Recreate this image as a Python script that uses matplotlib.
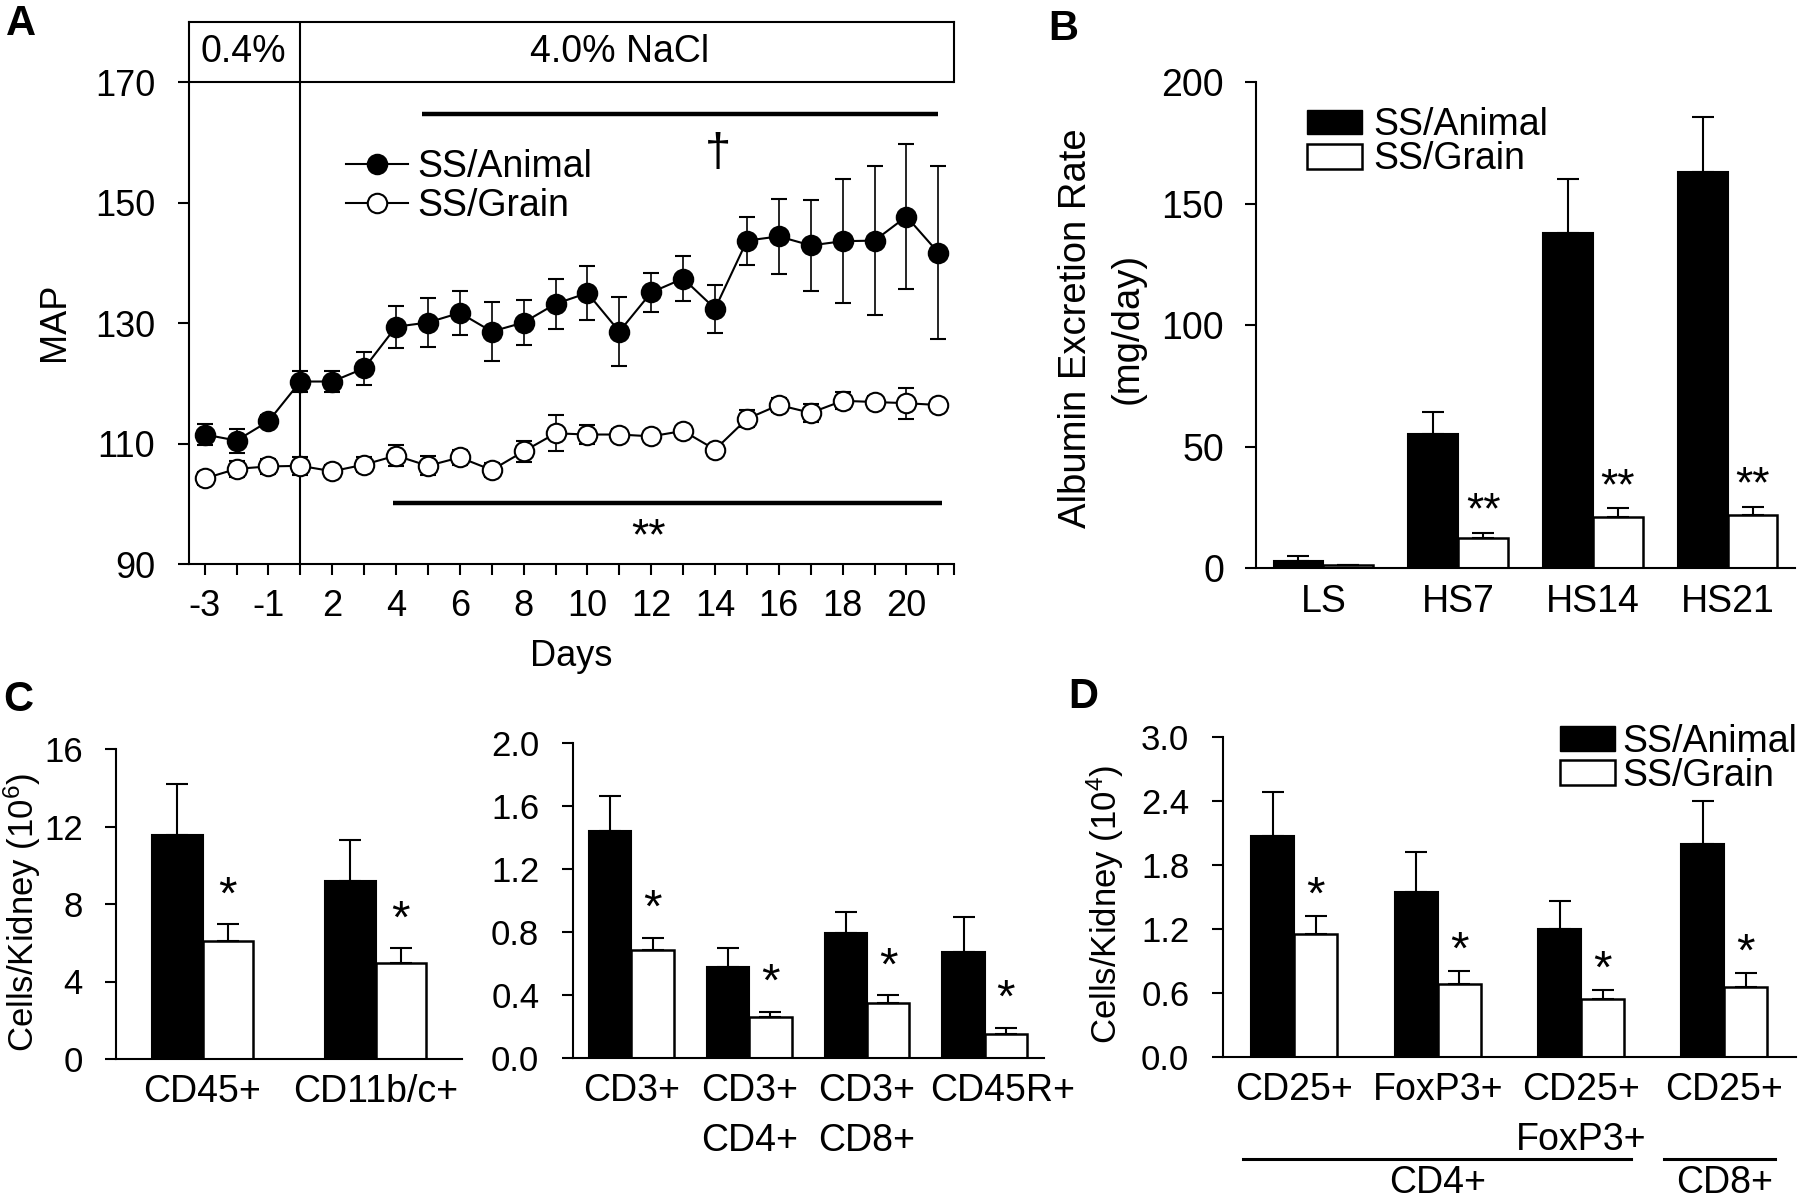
import numpy as np
import matplotlib
matplotlib.use('Agg')
import matplotlib.pyplot as plt
import matplotlib.transforms as mtransforms
from matplotlib.lines import Line2D
from matplotlib.patches import Patch

plt.rcParams['font.family'] = ['Liberation Sans', 'DejaVu Sans']
plt.rcParams['mathtext.fontset'] = 'custom'
plt.rcParams['mathtext.rm'] = 'Liberation Sans'
plt.rcParams['mathtext.it'] = 'Liberation Sans:italic'
plt.rcParams['axes.linewidth'] = 1.5

# panel A data (MAP vs days)
day_labels = ['-3', '-2', '-1', '1', '2', '3', '4', '5', '6', '7', '8', '9', '10',
              '11', '12', '13', '14', '15', '16', '17', '18', '19', '20', '21']
animal_map = [111.5, 110.5, 113.7, 120.3, 120.3, 122.5, 129.4, 130.1, 131.7, 128.6, 130.1, 133.2,
              135.0, 128.6, 135.1, 137.4, 132.4, 143.7, 144.4, 142.9, 143.6, 143.7, 147.7, 141.7]
animal_sem = [1.8, 2.0, 1.0, 1.8, 1.8, 2.7, 3.5, 4.1, 3.6, 4.9, 3.8, 4.2,
              4.5, 5.7, 3.3, 3.7, 4.0, 4.0, 6.2, 7.6, 10.3, 12.4, 12.1, 14.4]
grain_map = [104.2, 105.8, 106.2, 106.3, 105.4, 106.5, 108.0, 106.3, 107.7, 105.6, 108.7, 111.7,
             111.5, 111.5, 111.2, 112.1, 109.0, 114.1, 116.4, 115.1, 117.1, 116.9, 116.7, 116.4]
grain_sem = [1.0, 1.3, 1.2, 1.5, 1.0, 1.2, 1.7, 1.6, 1.2, 1.2, 1.8, 3.0,
             1.6, 1.0, 0.6, 0.6, 0.8, 1.4, 1.1, 1.5, 1.4, 1.0, 2.6, 0.8]

# panel B data (albumin excretion)
alb_groups = ['LS', 'HS7', 'HS14', 'HS21']
alb_animal = [3.2, 55.4, 138.2, 163.0]
alb_animal_err = [2.0, 8.9, 22.2, 22.7]
alb_grain = [1.2, 12.6, 21.0, 21.9]
alb_grain_err = [0.2, 2.1, 3.7, 3.4]
alb_sig = ['', '**', '**', '**']

# panel C data (cells/kidney)
c1_groups = ['CD45+', 'CD11b/c+']
c1_animal = [11.57, 9.18]
c1_animal_err = [2.61, 2.11]
c1_grain = [6.07, 4.93]
c1_grain_err = [0.89, 0.80]
c1_sig = ['*', '*']

c2_groups = ['CD3+', 'CD3+\nCD4+', 'CD3+\nCD8+', 'CD45R+']
c2_animal = [1.44, 0.576, 0.789, 0.670]
c2_animal_err = [0.22, 0.123, 0.134, 0.223]
c2_grain = [0.683, 0.260, 0.345, 0.148]
c2_grain_err = [0.079, 0.032, 0.053, 0.043]
c2_sig = ['*', '*', '*', '*']

# panel D data (Treg)
d_groups = ['CD25+', 'FoxP3+', 'CD25+\nFoxP3+', 'CD25+']
d_animal = [2.07, 1.54, 1.20, 1.99]
d_animal_err = [0.41, 0.38, 0.26, 0.41]
d_grain = [1.15, 0.686, 0.537, 0.657]
d_grain_err = [0.17, 0.117, 0.087, 0.124]
d_sig = ['*', '*', '*', '*']

W, H = 1800, 1198
fig = plt.figure(figsize=(W / 100, H / 100), dpi=100)


def px_axes(l, t, r, b):
    return fig.add_axes([l / W, 1 - b / H, (r - l) / W, (b - t) / H])


def bar_panel(ax, groups, animal, animal_err, grain, grain_err, sig, width, star_off, star_fs, fs, xfs):
    xs = np.arange(len(groups))
    ax.bar(xs - width / 2, animal, width, color='black', edgecolor='black', linewidth=1.5,
           yerr=[np.zeros(len(xs)), animal_err], capsize=8,
           error_kw=dict(elinewidth=1.5, capthick=1.5, ecolor='black'), zorder=2)
    ax.bar(xs + width / 2, grain, width, color='white', edgecolor='black', linewidth=1.8,
           yerr=[np.zeros(len(xs)), grain_err], capsize=8,
           error_kw=dict(elinewidth=1.5, capthick=1.5, ecolor='black'), zorder=2)
    for xi, g, e, s in zip(xs, grain, grain_err, sig):
        if s:
            ax.annotate(s, (xi + width / 2, g + e), xytext=(0, star_off), textcoords='offset points',
                        ha='center', va='bottom', fontsize=star_fs)
    ax.set_xticks(xs)
    ax.set_xticklabels(groups, linespacing=1.5)
    ax.spines['top'].set_visible(False)
    ax.spines['right'].set_visible(False)
    ax.tick_params(axis='x', length=0, pad=11, labelsize=xfs)
    ax.tick_params(axis='y', direction='out', length=8, width=1.5, pad=16, labelsize=fs)
    return xs


# ---------------- panel A ----------------
axA = px_axes(188.7, 22, 954.3, 564)
x = np.arange(len(day_labels))
axA.errorbar(x, animal_map, yerr=animal_sem, color='black', lw=1.5, marker='o', ms=14,
             mfc='black', mec='black', mew=1.5, capsize=6, elinewidth=1.2, capthick=1.2, zorder=3)
axA.errorbar(x, grain_map, yerr=grain_sem, color='black', lw=1.5, marker='o', ms=14,
             mfc='white', mec='black', mew=1.5, capsize=6, elinewidth=1.2, capthick=1.2, zorder=3)
axA.set_xlim(-0.5, 23.5)
axA.set_ylim(90, 180)
axA.set_yticks([90, 110, 130, 150, 170])
axA.set_xticks(x)
axA.set_xticklabels([lab if i % 2 == 0 else '' for i, lab in enumerate(day_labels)])
axA.set_xticks([23.5], minor=True)
axA.tick_params(axis='both', which='both', direction='out', width=1.5, labelsize=26)
axA.tick_params(axis='x', which='both', length=8, pad=10)
axA.tick_params(axis='y', length=8, pad=16)
axA.spines['right'].set_bounds(170, 180)
axA.axhline(170, color='black', lw=1.5)
axA.axvline(3, color='black', lw=1.5)
axA.text(1.2, 175, '0.4%', ha='center', va='center', fontsize=27)
axA.text(13, 175, '4.0% NaCl', ha='center', va='center', fontsize=27)
axA.hlines(164.7, 6.8, 23.0, color='black', lw=3.2)
axA.text(16.1, 158, '\u2020', ha='center', va='center', fontsize=34)
axA.hlines(100.2, 5.9, 23.1, color='black', lw=3.2)
axA.text(13.9, 94.3, '**', ha='center', va='center', fontsize=32)
handles_a = [Line2D([], [], color='black', lw=1.5, marker='o', ms=14, mfc='black', mec='black', mew=1.5),
             Line2D([], [], color='black', lw=1.5, marker='o', ms=14, mfc='white', mec='black', mew=1.5)]
axA.legend(handles_a, ['SS/Animal', 'SS/Grain'], loc='upper left', bbox_to_anchor=(0.2055, 0.765),
           frameon=False, fontsize=27, handlelength=1.65, handletextpad=0.25, labelspacing=0.07,
           borderpad=0, borderaxespad=0)
fig.text(54.5 / W, 1 - 322 / H, 'MAP', rotation=90, ha='center', va='center', fontsize=26)
fig.text(571.5 / W, 1 - 657 / H, 'Days', ha='center', va='center', fontsize=26)

# ---------------- panel B ----------------
axB = px_axes(1256, 82.4, 1795, 568.3)
bar_panel(axB, alb_groups, alb_animal, alb_animal_err, alb_grain, alb_grain_err, alb_sig,
          0.37, 0, 32, 27, 27)
axB.set_xlim(-0.5, 3.5)
axB.set_ylim(0, 200)
axB.set_yticks([0, 50, 100, 150, 200])
axB.tick_params(axis='y', pad=15)
axB.legend([Patch(facecolor='black', edgecolor='black'), Patch(facecolor='white', edgecolor='black', lw=1.8)],
           ['SS/Animal', 'SS/Grain'], loc='upper left', bbox_to_anchor=(0.095, 0.949), frameon=False,
           fontsize=27, handlelength=1.45, handleheight=0.64, handletextpad=0.3, labelspacing=-0.05,
           borderpad=0, borderaxespad=0)
fig.text(1076.5 / W, 1 - 328 / H, 'Albumin Excretion Rate', rotation=90, ha='center', va='center', fontsize=27.5)
fig.text(1127.5 / W, 1 - 328 / H, '(mg/day)', rotation=90, ha='center', va='center', fontsize=27.5)

# ---------------- panel C ----------------
axC1 = px_axes(116, 749, 462, 1059)
bar_panel(axC1, c1_groups, c1_animal, c1_animal_err, c1_grain, c1_grain_err, c1_sig,
          0.29, 4, 34, 25, 27)
axC1.set_xlim(-0.5, 1.5)
axC1.set_ylim(0, 16)
axC1.set_yticks([0, 4, 8, 12, 16])

axC2 = px_axes(572.6, 742.7, 1043.6, 1057.7)
bar_panel(axC2, c2_groups, c2_animal, c2_animal_err, c2_grain, c2_grain_err, c2_sig,
          0.36, 4, 34, 25, 27)
axC2.set_xlim(-0.5, 3.5)
axC2.set_ylim(0, 2)
axC2.set_yticks(np.arange(0, 2.01, 0.4))
axC2.yaxis.set_major_formatter('{x:.1f}')
# last label sits a little right of its bars in the original
last_lab = axC2.get_xticklabels()[-1]
last_lab.set_transform(last_lab.get_transform() + mtransforms.ScaledTranslation(13 / 72, 0, fig.dpi_scale_trans))
fig.text(22 / W, 1 - 912 / H, 'Cells/Kidney (10$^{6}$)', rotation=90, ha='center', va='center', fontsize=25)

# ---------------- panel D ----------------
axD = px_axes(1222.7, 736.7, 1796, 1056.7)
xd = bar_panel(axD, d_groups, d_animal, d_animal_err, d_grain, d_grain_err, d_sig,
               0.30, -2, 34, 25, 27)
axD.set_xlim(-0.5, 3.5)
axD.set_ylim(0, 3)
axD.set_yticks(np.arange(0, 3.01, 0.6))
axD.yaxis.set_major_formatter('{x:.1f}')
axD.legend([Patch(facecolor='black', edgecolor='black'), Patch(facecolor='white', edgecolor='black', lw=1.8)],
           ['SS/Animal', 'SS/Grain'], loc='upper left', bbox_to_anchor=(0.588, 1.04), frameon=False,
           fontsize=27, handlelength=1.47, handleheight=0.64, handletextpad=0.19, labelspacing=-0.05,
           borderpad=0, borderaxespad=0)
tr = axD.get_xaxis_transform()
axD.plot([xd[0] - 0.36, xd[2] + 0.35], [-0.319, -0.319], color='black', lw=2.2, transform=tr, clip_on=False)
axD.plot([xd[3] - 0.42, xd[3] + 0.35], [-0.319, -0.319], color='black', lw=2.2, transform=tr, clip_on=False)
axD.text(xd[1], -0.395, 'CD4+', transform=tr, ha='center', va='center', fontsize=27)
axD.text(xd[3], -0.395, 'CD8+', transform=tr, ha='center', va='center', fontsize=27)
fig.text(1105 / W, 1 - 904 / H, 'Cells/Kidney (10$^{4}$)', rotation=90, ha='center', va='center', fontsize=25)

# panel letters
for lx, ly, letter in [(6, 4, 'A'), (1048, 9, 'B'), (3, 680, 'C'), (1068, 677, 'D')]:
    fig.text(lx / W, 1 - ly / H, letter, ha='left', va='top', fontsize=30, fontweight='bold')

fig.savefig('out.png', dpi=100)
